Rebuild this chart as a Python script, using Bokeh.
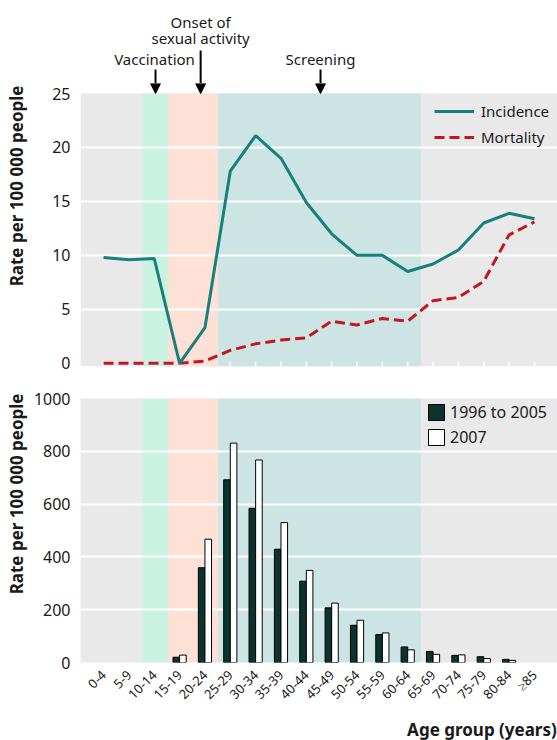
import math
from bokeh.plotting import figure
from bokeh.layouts import column, row
from bokeh.models import (ColumnDataSource, FixedTicker, BoxAnnotation,
                          Arrow, NormalHead, Range1d)
from bokeh.transform import dodge
from bokeh.embed import file_html
from bokeh.resources import INLINE

# ---------------- data ----------------
age_groups = ["0-4", "5-9", "10-14", "15-19", "20-24", "25-29", "30-34", "35-39",
              "40-44", "45-49", "50-54", "55-59", "60-64", "65-69", "70-74",
              "75-79", "80-84", "≥85"]
incidence = [9.8, 9.6, 9.7, 0.0, 3.3, 17.8, 21.1, 19.0, 14.9, 12.0, 10.0, 10.0,
             8.5, 9.2, 10.5, 13.0, 13.9, 13.4]
mortality = [0.0, 0.0, 0.0, 0.0, 0.2, 1.2, 1.8, 2.15, 2.35, 3.9, 3.55, 4.15,
             3.9, 5.8, 6.1, 7.6, 11.9, 13.1]
NA = float("nan")
rate_1996_2005 = [NA, NA, NA, 20, 359, 692, 584, 429, 308, 207, 141, 106, 59,
                  42, 27, 22, 12, NA]
rate_2007 = [NA, NA, NA, 28, 467, 831, 767, 530, 349, 225, 160, 112, 48, 31,
             29, 15, 8, NA]

top_ticks = [0, 5, 10, 15, 20, 25]
bottom_ticks = [0, 200, 400, 600, 800, 1000]
y_title = "Rate per 100 000 people"
x_title = "Age group (years)"

# phase bands (in age-group index units) and annotations
band_left = [1.55, 2.55, 4.52]
band_right = [2.55, 4.52, 12.52]
band_colors = ["#c9f2e1", "#fde0d6", "#cce5e4"]
phase_text = ["Vaccination", "Onset of", "sexual activity", "Screening"]
phase_text_x = [2.01, 3.83, 3.83, 8.56]
phase_text_y = [28.18, 31.64, 30.16, 28.18]
arrow_x = [2.05, 3.83, 8.56]
arrow_y_start = [27.23, 28.99, 27.23]

# ---------------- style ----------------
FONT = "Noto Sans"
TXT = "#1a1a1a"
GREY = "#e9e9e9"
TEAL = "#17807a"
RED = "#c5161d"
DARK = "#0b3431"
XR = (-0.91, 17.91)
Y1_TOP = 25.93     # a little white space above 25 for the arrow heads
Y1_BOT = -0.3
W_STRIP = 30
W_MAIN = 557 - W_STRIP
LEFT = 80 - W_STRIP

x_idx = list(range(len(age_groups)))


def bare(p):
    p.axis.visible = False
    p.grid.visible = False
    p.outline_line_color = None
    p.background_fill_color = "white"
    p.border_fill_color = "white"


def style_y(p, ticks, grid_ticks):
    p.border_fill_color = "white"
    p.outline_line_color = None
    p.xgrid.grid_line_color = None
    p.ygrid.grid_line_color = "white"
    p.ygrid.grid_line_width = 2
    p.ygrid.ticker = FixedTicker(ticks=grid_ticks)
    ax = p.yaxis[0]
    ax.ticker = FixedTicker(ticks=ticks)
    ax.axis_line_color = None
    ax.major_tick_line_color = None
    ax.minor_tick_line_color = None
    ax.major_label_standoff = 4
    ax.major_label_text_font = FONT
    ax.major_label_text_font_size = "16px"
    ax.major_label_text_color = TXT


# ---------------- left strip with the y titles ----------------
pl = figure(width=W_STRIP, height=740, output_backend="svg",
            toolbar_location=None, x_range=Range1d(0, W_STRIP),
            y_range=Range1d(0, 740), min_border=0)
bare(pl)
pl.text(x=[16, 16], y=[740 - 85, 740 - 393], text=[y_title, y_title],
        angle=math.pi / 2, text_align="right", text_baseline="middle",
        text_font={"value": FONT}, text_font_size="17px",
        text_font_style="bold", text_color=TXT)

# ---------------- header (annotations) ----------------
ph = figure(width=W_MAIN, height=83, output_backend="svg",
            toolbar_location=None, x_range=Range1d(*XR),
            y_range=Range1d(Y1_TOP, Y1_TOP + 83 / 10.79),
            min_border_left=LEFT, min_border_right=0, min_border_top=0,
            min_border_bottom=0)
bare(ph)
ph.text(x=phase_text_x, y=phase_text_y, text=phase_text, text_align="center",
        text_baseline="middle", text_font={"value": FONT},
        text_font_size="15px", text_color=TXT)
ph.segment(x0=arrow_x, y0=arrow_y_start, x1=arrow_x,
           y1=[Y1_TOP] * len(arrow_x), line_color="black", line_width=2)

# ---------------- top plot ----------------
p1 = figure(width=W_MAIN, height=295, output_backend="svg",
            toolbar_location=None, x_range=ph.x_range,
            y_range=Range1d(Y1_BOT, Y1_TOP),
            min_border_left=LEFT, min_border_right=0, min_border_top=0,
            min_border_bottom=12)
p1.background_fill_color = "white"
style_y(p1, top_ticks, [5, 10, 15, 20])
p1.xaxis.visible = False
p1.add_layout(BoxAnnotation(top=25, fill_color=GREY, fill_alpha=1,
                            line_color=None, level="image"))
for l, r, c in zip(band_left, band_right, band_colors):
    p1.add_layout(BoxAnnotation(left=l, right=r, top=25, fill_color=c,
                                fill_alpha=1, line_color=None, level="image"))
for ax_ in arrow_x:
    p1.add_layout(Arrow(x_start=ax_, y_start=Y1_TOP, x_end=ax_, y_end=25,
                        line_width=2, line_color="black",
                        end=NormalHead(size=10, fill_color="black",
                                       line_color="black")))

src1 = ColumnDataSource(dict(x=x_idx, inc=incidence, mort=mortality,
                             t0=[Y1_BOT] * len(x_idx),
                             t1=[Y1_BOT + 5 / 10.79] * len(x_idx)))
p1.segment(x0="x", y0="t0", x1="x", y1="t1", source=src1,
           line_color="white", line_width=1.5)
p1.line("x", "mort", source=src1, line_color=RED, line_width=3,
        line_dash="10 5", legend_label="Mortality")
p1.line("x", "inc", source=src1, line_color=TEAL, line_width=3,
        legend_label="Incidence")
leg1 = p1.legend[0]
leg1.items = list(reversed(leg1.items))
leg1.location = (354, 219)
leg1.background_fill_alpha = 0
leg1.border_line_color = None
leg1.margin = 0
leg1.padding = 4
leg1.glyph_width = 40
leg1.glyph_height = 20
leg1.label_height = 20
leg1.label_standoff = 7
leg1.spacing = 6
leg1.label_text_font = FONT
leg1.label_text_font_size = "15px"
leg1.label_text_color = TXT

# ---------------- bottom plot ----------------
p2 = figure(width=W_MAIN, height=334, output_backend="svg",
            toolbar_location=None, x_range=ph.x_range,
            y_range=Range1d(0, 1000),
            min_border_left=LEFT, min_border_right=0, min_border_top=20,
            min_border_bottom=44)
p2.background_fill_color = GREY
style_y(p2, bottom_ticks, [200, 400, 600, 800])
for l, r, c in zip(band_left, band_right, band_colors):
    p2.add_layout(BoxAnnotation(left=l, right=r, fill_color=c, fill_alpha=1,
                                line_color=None, level="image"))
xa = p2.xaxis[0]
xa.ticker = FixedTicker(ticks=x_idx)
xa.axis_line_color = None
xa.major_tick_line_color = None
xa.minor_tick_line_color = None
xa.major_label_overrides = {i: g for i, g in enumerate(age_groups)}
xa.major_label_orientation = math.pi / 4
xa.major_label_standoff = 4
xa.major_label_text_font = FONT
xa.major_label_text_font_size = "13px"
xa.major_label_text_color = TXT

src2 = ColumnDataSource(dict(x=x_idx, a=rate_1996_2005, b=rate_2007))
p2.vbar(x=dodge("x", -0.13, range=p2.x_range), top="a", width=0.26,
        source=src2, fill_color=DARK, line_color="black", line_width=1,
        legend_label="1996 to 2005")
p2.vbar(x=dodge("x", 0.13, range=p2.x_range), top="b", width=0.26,
        source=src2, fill_color="white", line_color="black", line_width=1,
        legend_label="2007")
leg2 = p2.legend[0]
leg2.location = (346, 214)
leg2.background_fill_alpha = 0
leg2.border_line_color = None
leg2.margin = 0
leg2.padding = 5
leg2.glyph_width = 20
leg2.glyph_height = 20
leg2.label_height = 20
leg2.label_standoff = 4
leg2.spacing = 3
leg2.label_text_font = FONT
leg2.label_text_font_size = "16px"
leg2.label_text_color = TXT

# ---------------- bottom strip with the x title ----------------
pb = figure(width=W_MAIN, height=28, output_backend="svg",
            toolbar_location=None, x_range=ph.x_range, y_range=Range1d(0, 28),
            min_border_left=LEFT, min_border_right=0, min_border_top=0,
            min_border_bottom=0)
bare(pb)
pb.text(x=[XR[1] - 0.03], y=[11], text=[x_title], text_align="right",
        text_baseline="middle", text_font={"value": FONT},
        text_font_size="17px", text_font_style="bold", text_color=TXT)

layout = row(pl, column(ph, p1, p2, pb, spacing=0), spacing=0)
open("out.html", "w").write(file_html(layout, INLINE))
